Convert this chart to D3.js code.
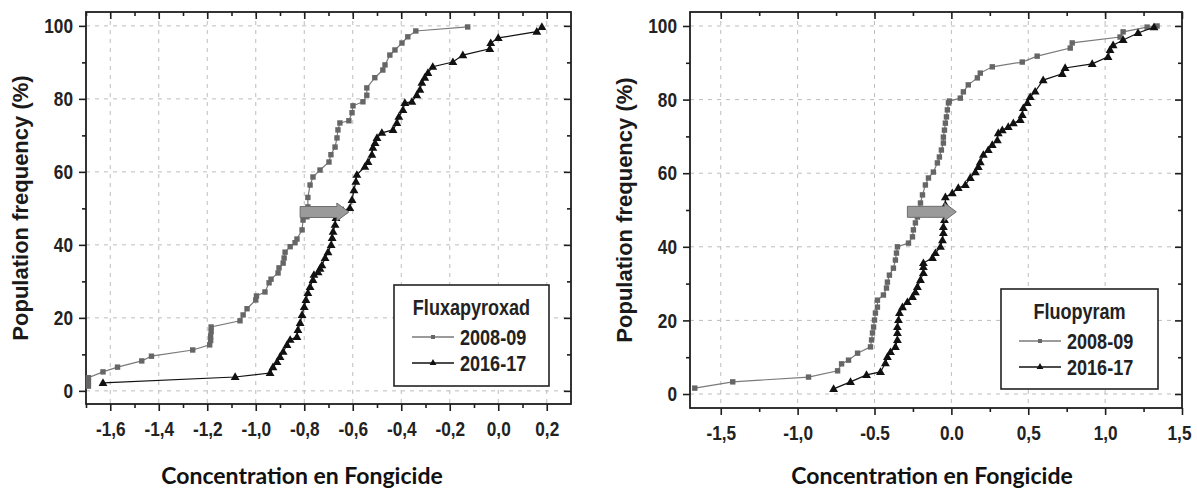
<!DOCTYPE html>
<html>
<head>
<meta charset="utf-8">
<script src="https://cdn.jsdelivr.net/npm/d3@7"></script>
<style>
    body { margin: 0; background: #fff; }
    svg { display: block; }
    .grid line { stroke: #bdbdbd; stroke-width: 1; stroke-dasharray: 4,5; }
    .frame { fill: none; stroke: #1e1e1e; stroke-width: 1.8; }
    .axis path { display: none; }
    .axis line { stroke: #1e1e1e; stroke-width: 1.6; }
    .axis text { font-family: 'Liberation Sans', Arial, sans-serif; font-weight: bold; font-size: 21px; fill: #222; }
    .ytitle { font-family: 'Liberation Sans', Arial, sans-serif; font-weight: bold; font-size: 22px; fill: #1a1a1a; }
    .xtitle { font-family: Lato, 'Open Sans', sans-serif; font-weight: bold; font-size: 23px; fill: #111; }
    .legend text { font-family: 'Liberation Sans', Arial, sans-serif; font-weight: bold; font-size: 22px; fill: #222; }
</style>
</head>
<body>
<svg id="plate" width="1197" height="488"></svg>
<script>
// ---- data ----
var yTicks = [0, 20, 40, 60, 80, 100];
var yMinor = [10, 30, 50, 70, 90];

var fluxaTicks = [-1.6, -1.4, -1.2, -1.0, -0.8, -0.6, -0.4, -0.2, 0.0, 0.2];
var fluxaTickLabels = ['-1,6', '-1,4', '-1,2', '-1,0', '-0,8', '-0,6', '-0,4', '-0,2', '0,0', '0,2'];
var fluxaMinor = [-1.7, -1.5, -1.3, -1.1, -0.9, -0.7, -0.5, -0.3, -0.1, 0.1];

var fluoTicks = [-1.5, -1.0, -0.5, 0.0, 0.5, 1.0, 1.5];
var fluoTickLabels = ['-1,5', '-1,0', '-0.5', '0.0', '0,5', '1,0', '1,5'];
var fluoMinor = [-1.25, -0.75, -0.25, 0.25, 0.75, 1.25];

var seriesNames = ['2008-09', '2016-17'];

// Fluxapyroxad, 2008-09 (grey squares)
var fluxa0809 = [
    [-1.69, 1.3], [-1.69, 2.5], [-1.69, 3.6], [-1.63, 5.2], [-1.57, 6.5], [-1.47, 8.2], [-1.43, 9.5],
    [-1.26, 11.2], [-1.19, 12.6], [-1.186, 13.8], [-1.186, 15], [-1.184, 16.3], [-1.184, 17.5],
    [-1.065, 19.2], [-1.052, 20.8], [-1.036, 22.5], [-1.0, 24.9], [-0.997, 26], [-0.962, 27.1],
    [-0.945, 29.6], [-0.937, 30.6], [-0.908, 32.3], [-0.904, 33.7], [-0.887, 35], [-0.883, 36.4],
    [-0.879, 38], [-0.858, 39.5], [-0.838, 40.6], [-0.83, 41.6], [-0.809, 44.1], [-0.805, 46.8],
    [-0.789, 47.7], [-0.785, 50.4], [-0.785, 53], [-0.776, 56.4], [-0.764, 58.6], [-0.735, 60.5],
    [-0.698, 62.7], [-0.69, 64.7], [-0.673, 66.8], [-0.665, 69.3], [-0.661, 71.5], [-0.653, 73.4],
    [-0.616, 74], [-0.603, 76.2], [-0.599, 78.1], [-0.558, 79.2], [-0.542, 81], [-0.542, 83],
    [-0.509, 85.8], [-0.476, 87.9], [-0.467, 89.3], [-0.447, 92], [-0.426, 93.4], [-0.397, 95.3],
    [-0.373, 97], [-0.34, 98.6], [-0.126, 99.7]
];

// Fluxapyroxad, 2016-17 (black triangles)
var fluxa1617 = [
    [-1.63, 2.2], [-1.085, 3.8], [-0.941, 4.9], [-0.929, 6.5], [-0.912, 7.9], [-0.9, 9.3],
    [-0.887, 10.7], [-0.871, 12.6], [-0.858, 14], [-0.83, 14.8], [-0.826, 16.7], [-0.817, 18.6],
    [-0.809, 20.8], [-0.8, 23], [-0.793, 24.9], [-0.785, 26.8], [-0.776, 28.5], [-0.764, 30.4],
    [-0.76, 31.8], [-0.743, 32.5], [-0.735, 33.5], [-0.727, 34.4], [-0.714, 36.4], [-0.702, 38],
    [-0.689, 40], [-0.685, 41.9], [-0.681, 43.6], [-0.673, 45.5], [-0.669, 47.4], [-0.665, 48.8],
    [-0.64, 49.3], [-0.612, 50.1], [-0.603, 52.3], [-0.595, 55], [-0.587, 57.3], [-0.583, 59.2],
    [-0.55, 61.4], [-0.537, 62.7], [-0.521, 64.7], [-0.517, 66.6], [-0.508, 67.9], [-0.5, 69.3],
    [-0.48, 70.7], [-0.434, 71.5], [-0.418, 73.4], [-0.41, 75.1], [-0.393, 77], [-0.385, 78.9],
    [-0.356, 79.2], [-0.336, 81], [-0.323, 82.5], [-0.315, 84.4], [-0.303, 85.8], [-0.29, 87.1],
    [-0.27, 88.8], [-0.187, 90.1], [-0.146, 92], [-0.035, 93.7], [-0.031, 95.3], [0.0, 96.7],
    [0.159, 98.4], [0.18, 99.7]
];

// Fluopyram, 2008-09 (grey squares)
var fluo0809 = [
    [-1.669, 1.6], [-1.422, 3.3], [-0.929, 4.6], [-0.74, 6.3], [-0.714, 8.2], [-0.669, 9.2],
    [-0.61, 11.1], [-0.526, 12.8], [-0.519, 14.7], [-0.513, 16.6], [-0.506, 18.2], [-0.5, 20.1],
    [-0.494, 22], [-0.481, 23.6], [-0.481, 25.5], [-0.442, 26.9], [-0.422, 28.8], [-0.416, 30.4],
    [-0.403, 32.3], [-0.377, 34.2], [-0.364, 36.4], [-0.357, 38.3], [-0.351, 40], [-0.279, 41],
    [-0.253, 42.7], [-0.247, 44.6], [-0.234, 46.5], [-0.221, 48.1], [-0.214, 50], [-0.201, 51.9],
    [-0.188, 54.1], [-0.169, 56.8], [-0.149, 58.7], [-0.117, 60.3], [-0.091, 62.8], [-0.078, 64.4],
    [-0.065, 66.3], [-0.052, 68.2], [-0.052, 69.8], [-0.045, 71.7], [-0.039, 73.6], [-0.032, 75.3],
    [-0.026, 77.2], [-0.019, 79.1], [-0.013, 79.6], [0.058, 80.4], [0.078, 82.1], [0.11, 84],
    [0.169, 85.9], [0.188, 87.2], [0.266, 88.9], [0.461, 90.2], [0.558, 91.8], [0.773, 94],
    [0.786, 95.4], [1.097, 97], [1.117, 98.4], [1.273, 99.7], [1.338, 100]
];

// Fluopyram, 2016-17 (black triangles)
var fluo1617 = [
    [-0.766, 1.4], [-0.656, 3.3], [-0.552, 5.2], [-0.461, 6], [-0.429, 8.4], [-0.416, 10.1],
    [-0.396, 11.4], [-0.364, 12.8], [-0.351, 14.7], [-0.351, 16.6], [-0.351, 18.2], [-0.344, 20.1],
    [-0.338, 22], [-0.318, 23.6], [-0.286, 25], [-0.253, 26.4], [-0.234, 27.7], [-0.221, 29.1],
    [-0.201, 31], [-0.182, 32.9], [-0.182, 34.5], [-0.182, 35.6], [-0.123, 37], [-0.104, 38.3],
    [-0.071, 40], [-0.058, 41.8], [-0.052, 43.8], [-0.052, 45.4], [-0.045, 47.3], [-0.039, 49.2],
    [-0.039, 51.4], [-0.039, 53.5], [0.006, 54.6], [0.045, 56], [0.091, 56.8], [0.123, 58.7],
    [0.156, 60.3], [0.175, 61.7], [0.188, 63], [0.208, 65], [0.24, 66.3], [0.266, 67.7],
    [0.299, 69], [0.305, 70.9], [0.331, 71.7], [0.37, 72.6], [0.403, 73.6], [0.448, 74.5],
    [0.461, 75.8], [0.468, 77.7], [0.494, 79.1], [0.513, 80.7], [0.545, 82.2], [0.597, 85.3],
    [0.721, 87], [0.74, 88.6], [0.916, 89.7], [1.019, 91.6], [1.032, 93.5], [1.052, 94.8],
    [1.117, 96.2], [1.214, 98.1], [1.318, 99.7]
];

// shift arrows: [x start, x tip, y]
var fluxaArrow = [-0.817, -0.616, 49];
var fluoArrow = [-0.286, 0.032, 49.5];

// ---- panels ----
var svg = d3.select('#plate');

var panels = [
    {
        left: 86, right: 571, top: 12, bottom: 404,
        xDomain: [-1.7, 0.3], yDomain: [-3.6, 103.8],
        ticks: fluxaTicks, labels: fluxaTickLabels, minor: fluxaMinor,
        early: fluxa0809, late: fluxa1617, arrow: fluxaArrow,
        title: 'Fluxapyroxad',
        legend: {x0: 394, y0: 285, x1: 549, y1: 386},
        yTitleX: 28, xTitleX: 302
    },
    {
        left: 690, right: 1182, top: 12, bottom: 408,
        xDomain: [-1.7, 1.5], yDomain: [-3.8, 103.8],
        ticks: fluoTicks, labels: fluoTickLabels, minor: fluoMinor,
        early: fluo0809, late: fluo1617, arrow: fluoArrow,
        title: 'Fluopyram',
        legend: {x0: 1001, y0: 289, x1: 1158, y1: 389},
        yTitleX: 632, xTitleX: 932
    }
];

var triangle = d3.symbol().type(d3.symbolTriangle).size(34);

// squeeze text horizontally to mimic a narrow face (no Arial Narrow here)
function narrow(sel, k) {
    sel.each(function() {
        var w = this.getComputedTextLength();
        if (w > 0) {
            d3.select(this).attr('textLength', w * k).attr('lengthAdjust', 'spacingAndGlyphs');
        }
    });
}

panels.forEach(function(p) {
    var x = d3.scaleLinear().domain(p.xDomain).range([p.left, p.right]);
    var y = d3.scaleLinear().domain(p.yDomain).range([p.bottom, p.top]);
    var g = svg.append('g');

    // dashed grid
    var grid = g.append('g').attr('class', 'grid');
    grid.selectAll('.gx')
        .data(p.ticks.filter(function(d) { return x(d) < p.right - 2; }))
        .enter().append('line')
        .attr('x1', function(d) { return x(d); })
        .attr('x2', function(d) { return x(d); })
        .attr('y1', p.top)
        .attr('y2', p.bottom);
    grid.selectAll('.gy')
        .data(yTicks)
        .enter().append('line')
        .attr('x1', p.left)
        .attr('x2', p.right)
        .attr('y1', function(d) { return y(d); })
        .attr('y2', function(d) { return y(d); });

    // axes: bottom/left outward, top/right inward
    var xAxis = g.append('g').attr('class', 'axis')
        .attr('transform', 'translate(0,' + p.bottom + ')')
        .call(d3.axisBottom(x).tickValues(p.ticks).tickSize(7).tickPadding(10)
            .tickFormat(function(d, i) { return p.labels[i]; }));
    // keep a label sitting on the right frame inside the window
    xAxis.selectAll('.tick text')
        .filter(function(d) { return x(d) > 1170; })
        .attr('dx', -3);
    g.append('g').attr('class', 'axis')
        .attr('transform', 'translate(0,' + p.bottom + ')')
        .call(d3.axisBottom(x).tickValues(p.minor).tickSize(4).tickFormat(''));
    g.append('g').attr('class', 'axis')
        .attr('transform', 'translate(0,' + p.top + ')')
        .call(d3.axisTop(x).tickValues(p.ticks).tickSize(-7).tickFormat(''));
    g.append('g').attr('class', 'axis')
        .attr('transform', 'translate(0,' + p.top + ')')
        .call(d3.axisTop(x).tickValues(p.minor).tickSize(-4).tickFormat(''));

    g.append('g').attr('class', 'axis')
        .attr('transform', 'translate(' + p.left + ',0)')
        .call(d3.axisLeft(y).tickValues(yTicks).tickSize(7).tickPadding(6));
    g.append('g').attr('class', 'axis')
        .attr('transform', 'translate(' + p.left + ',0)')
        .call(d3.axisLeft(y).tickValues(yMinor).tickSize(4).tickFormat(''));
    g.append('g').attr('class', 'axis')
        .attr('transform', 'translate(' + p.right + ',0)')
        .call(d3.axisRight(y).tickValues(yTicks).tickSize(-7).tickFormat(''));
    g.append('g').attr('class', 'axis')
        .attr('transform', 'translate(' + p.right + ',0)')
        .call(d3.axisRight(y).tickValues(yMinor).tickSize(-4).tickFormat(''));

    narrow(g.selectAll('.axis text'), 0.82);

    g.append('rect').attr('class', 'frame')
        .attr('x', p.left).attr('y', p.top)
        .attr('width', p.right - p.left).attr('height', p.bottom - p.top);

    var line = d3.line()
        .x(function(d) { return x(d[0]); })
        .y(function(d) { return y(d[1]); });

    // 2008-09 grey squares
    g.append('path')
        .datum(p.early)
        .attr('d', line)
        .attr('fill', 'none')
        .attr('stroke', '#7a7a7a')
        .attr('stroke-width', 1.2);
    g.selectAll('.sq')
        .data(p.early)
        .enter().append('rect')
        .attr('x', function(d) { return x(d[0]) - 2.7; })
        .attr('y', function(d) { return y(d[1]) - 2.7; })
        .attr('width', 5.4).attr('height', 5.4)
        .attr('fill', '#666');

    // 2016-17 black triangles
    g.append('path')
        .datum(p.late)
        .attr('d', line)
        .attr('fill', 'none')
        .attr('stroke', '#111')
        .attr('stroke-width', 1.2);
    g.selectAll('.tri')
        .data(p.late)
        .enter().append('path')
        .attr('d', triangle)
        .attr('transform', function(d) { return 'translate(' + x(d[0]) + ',' + (y(d[1]) + 0.5) + ')'; })
        .attr('fill', '#111');

    // shift arrow
    var ax0 = x(p.arrow[0]), ax1 = x(p.arrow[1]), ay = y(p.arrow[2]);
    var head = 12, sh = 5.5, hh = 9;
    g.append('path')
        .attr('d', 'M' + ax0 + ',' + (ay - sh) + 'H' + (ax1 - head) + 'V' + (ay - hh) +
            'L' + ax1 + ',' + ay + 'L' + (ax1 - head) + ',' + (ay + hh) + 'V' + (ay + sh) +
            'H' + ax0 + 'Z')
        .attr('fill', '#9a9a9a')
        .attr('stroke', '#6e6e6e')
        .attr('stroke-width', 1);

    // legend
    var L = p.legend;
    var lg = g.append('g').attr('class', 'legend');
    lg.append('rect')
        .attr('x', L.x0).attr('y', L.y0)
        .attr('width', L.x1 - L.x0).attr('height', L.y1 - L.y0)
        .attr('fill', '#fff').attr('stroke', '#222').attr('stroke-width', 1.6);
    lg.append('text')
        .attr('x', (L.x0 + L.x1) / 2).attr('y', L.y0 + 30)
        .attr('text-anchor', 'middle')
        .text(p.title);
    seriesNames.forEach(function(name, i) {
        var ly = L.y0 + 52 + i * 26;
        var lx = L.x0 + 18;
        lg.append('line')
            .attr('x1', lx).attr('x2', lx + 42)
            .attr('y1', ly).attr('y2', ly)
            .attr('stroke', i === 0 ? '#7a7a7a' : '#111').attr('stroke-width', 1.4);
        if (i === 0) {
            lg.append('rect').attr('x', lx + 19).attr('y', ly - 2).attr('width', 4).attr('height', 4).attr('fill', '#666');
        } else {
            lg.append('path').attr('d', d3.symbol().type(d3.symbolTriangle).size(20))
                .attr('transform', 'translate(' + (lx + 21) + ',' + ly + ')').attr('fill', '#111');
        }
        lg.append('text')
            .attr('x', lx + 48).attr('y', ly + 8)
            .text(name);
    });
    narrow(lg.selectAll('text'), 0.82);

    // axis titles
    svg.append('text')
        .attr('class', 'ytitle')
        .attr('transform', 'translate(' + p.yTitleX + ',' + ((p.top + p.bottom) / 2) + ') rotate(-90)')
        .attr('text-anchor', 'middle')
        .text('Population frequency (%)');
    svg.append('text')
        .attr('class', 'xtitle')
        .attr('x', p.xTitleX).attr('y', 484)
        .attr('text-anchor', 'middle')
        .text('Concentration en Fongicide');
});
</script>
</body>
</html>
